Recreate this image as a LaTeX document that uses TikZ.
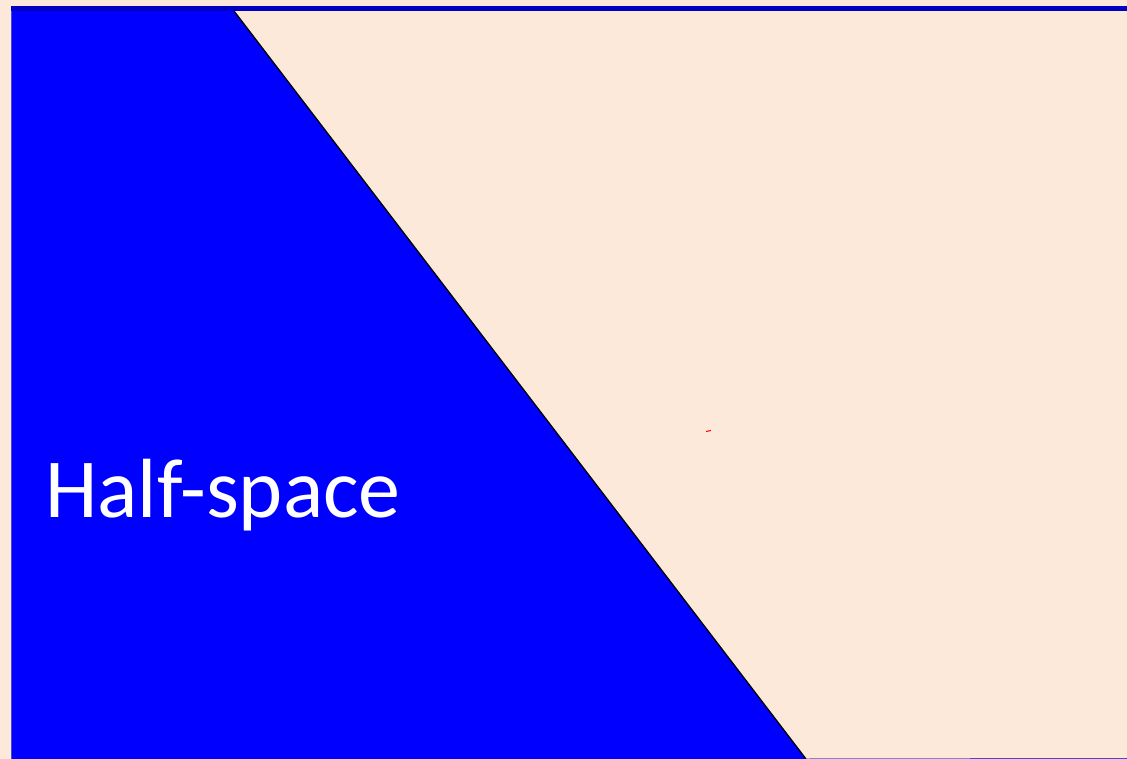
\documentclass[tikz,border=0pt]{standalone}
\usepackage{fontspec}
\setmainfont{Carlito}
\definecolor{peach}{HTML}{FDE9DA}
\definecolor{halfblue}{HTML}{0000FF}
\definecolor{darkedge}{HTML}{0000C0}
\definecolor{thinedge}{HTML}{4848D8}
\begin{document}
\begin{tikzpicture}[x=1pt,y=-1pt,
  label/.style={text=white,font=\fontsize{84}{90}\selectfont,anchor=base west,inner sep=0pt}]
\useasboundingbox (0,0) rectangle (1127,759);
\fill[peach] (0,0) rectangle (1127,759);
\coordinate (tl) at (11,11);
\coordinate (tp) at (234,11);
\coordinate (bp) at (806,759);
\coordinate (bl) at (11,759);
\fill[halfblue] (tl) -- (tp) -- (bp) -- (bl) -- cycle;
\draw[black,line width=1.3pt] (tp) -- (bp);
\draw[thinedge,line width=1pt] (11,11) -- (11,759);
\draw[thinedge,line width=1pt] (bp) -- (1127,758.5);
\draw[darkedge,line width=5pt] (11,8.5) -- (1127,8.5);
\draw[red,line width=1pt] (706,431.5) -- (711,430.5);
\node[label] (hs) at (45,517) {Half-space};
\end{tikzpicture}
\end{document}
